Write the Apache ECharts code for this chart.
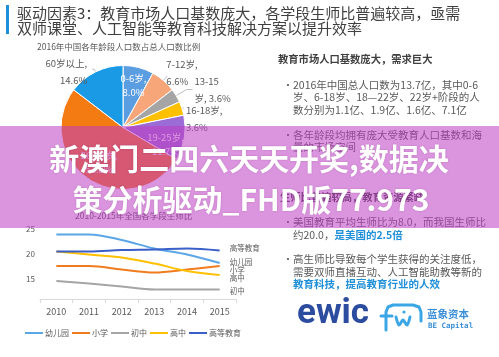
<!DOCTYPE html>
<html><head><meta charset="utf-8">
<script src="https://cdn.jsdelivr.net/npm/echarts@6/dist/echarts.min.js"></script>
<style>html,body{margin:0;padding:0;background:#fff}#c{width:499px;height:357px}</style>
</head><body><div id="c"></div>
<script>
// ---- data ----
const ageNames = ['0-6岁', '7-12岁', '13-15岁', '16-18岁', '19-25岁', '26-59岁', '60岁以上'];
const ageShares = [8.0, 6.6, 3.6, 3.6, 11.7, 51.8, 14.6];
const ageColors = ['#5a9de0', '#f7a67a', '#a5a5a5', '#ffc000', '#9b6bd6', '#f47a12', '#1a9ae4'];
const years = ['2010', '2011', '2012', '2013', '2014', '2015'];
const lineNames = ['幼儿园', '小学', '初中', '高中', '高等教育'];
const kindergarten = [23.9, 23.9, 22.8, 21.1, 19.9, 18.2];
const primary = [17.6, 17.6, 16.9, 16.3, 16.9, 17.6];
const junior = [14.6, 14.1, 13.5, 12.9, 12.9, 12.9];
const senior = [20.5, 19.9, 19.3, 18.1, 16.6, 15.8];
const higher = [20.5, 20.5, 20.8, 20.9, 21.1, 20.7];
const lineSeriesData = [kindergarten, primary, junior, senior, higher];
const lineColors = ['#5aa6e6', '#f07c1e', '#a5a5a5', '#ffc000', '#3a5fc8'];
const yTickLabels = [15, 20, 25];

const FF = '"Noto Sans CJK SC", "Noto Sans", sans-serif';
const chart = echarts.init(document.getElementById('c'));

const insideItems = { '0-6岁': 1, '19-25岁': 1, '26-59岁': 1 };
const lineLens = { '60岁以上': [3, 2], '7-12岁': [6, 0], '13-15岁': [12, 6], '16-18岁': [2, 0] };
const labelNudge = { '0-6岁': [2, -9], '19-25岁': [9, 11], '26-59岁': [-5, 7], '16-18岁': [0, 11],
  '60岁以上': [-3, 3], '7-12岁': [-3, -3] };

const pieData = ageNames.map((n, i) => {
  const d = { name: n, value: ageShares[i], itemStyle: { color: ageColors[i] } };
  if (insideItems[n]) {
    d.label = { position: 'inside', color: '#fff', lineHeight: 14 };
    d.labelLine = { show: false };
  } else {
    d.labelLine = { length: lineLens[n][0], length2: lineLens[n][1] };
  }
  return d;
});

function txt(text, x, y, size, opt) {
  opt = opt || {};
  return {
    type: 'text', z: opt.z || 10,
    style: Object.assign({
      text: text, x: x, y: y,
      font: (opt.bold ? 'bold ' : '') + size + 'px ' + (opt.ff || FF),
      fill: opt.fill || '#595959',
      textAlign: opt.align || 'left', textVerticalAlign: 'middle'
    }, opt.style || {})
  };
}
const richBlue = { b: { fill: '#1e8fd8', fontWeight: 'bold', fontSize: 10.5, fontFamily: FF } };
const logoStroke = { stroke: '#3aa6e6', lineWidth: 3, fill: null, lineCap: 'round', lineJoin: 'round' };

const graphics = [
  { type: 'rect', shape: { x: 6, y: 5, width: 3, height: 29 }, style: { fill: '#1e90d8' } },
  txt('驱动因素3：教育市场人口基数庞大，各学段生师比普遍较高，亟需', 17, 13, 15, { fill: '#404040' }),
  txt('双师课堂、人工智能等教育科技解决方案以提升效率', 17, 28, 15, { fill: '#404040' }),
  txt('2016年中国各年龄段人口数占总人口数比例', 37, 47, 8.5, { fill: '#595959' }),
  txt('教育市场人口基数庞大，需求巨大', 278, 59, 10.3, { bold: true, fill: '#404040' }),
  txt('•', 283, 85, 10),
  txt('2016年中国总人口数为13.7亿，其中0-6', 293, 85, 10.5),
  txt('岁、6-18岁、18—22岁、22岁+阶段的人', 293, 97.5, 10.5),
  txt('数分别为1.1亿、1.9亿、1.6亿、7.1亿', 293, 110, 10.5),
  txt('•', 283, 135, 10),
  txt('各年龄段均拥有庞大受教育人口基数和海', 293, 135, 10.5),
  txt('量的市场空间', 293, 147.5, 10.5),
  txt('生师比普遍较高，教育资源紧缺', 280, 197, 10.3, { bold: true, fill: '#404040' }),
  txt('•', 283, 222, 10),
  txt('美国教育平均生师比为8.0，而我国生师比', 293, 222, 10.5),
  txt('约20.0，{b|是美国的2.5倍}', 293, 235, 10.5, { style: { rich: richBlue } }),
  txt('•', 283, 259, 10),
  txt('高生师比导致每个学生获得的关注度低，', 293, 259, 10.5),
  txt('需要双师直播互动、人工智能助教等新的', 293, 272, 10.5),
  txt('{b|教育科技，提高教育行业的人效}', 293, 284.5, 10.5, { style: { rich: richBlue } }),
  txt('2010-2015年全国各学段生师比', 75, 216, 8.5),
  // logos
  txt('ewic', 297, 314, 35, { bold: true, fill: '#2b4c9f', ff: 'Roboto, sans-serif' }),
  { type: 'polyline', z: 10, shape: { points: [[386, 330], [386, 312], [388, 307], [393, 305], [413, 305], [419, 307], [421, 312], [421, 321]] }, style: logoStroke },
  { type: 'line', z: 10, shape: { x1: 381, y1: 316, x2: 392, y2: 316 }, style: logoStroke },
  { type: 'polyline', z: 10, shape: { points: [[396, 317], [399, 325], [403, 320], [407, 325], [410, 317]], smooth: 0.3 }, style: logoStroke },
  { type: 'circle', z: 10, shape: { cx: 404, cy: 312, r: 1.6 }, style: { fill: '#3aa6e6' } },
  txt('蓝象资本', 427, 314, 10.5, { bold: true, fill: '#3a8fd8' }),
  txt('BE Capital', 428, 326, 7.5, { bold: true, fill: '#3a8fd8', ff: '"DejaVu Sans Mono", monospace' }),
  // overlay band + watermark
  { type: 'rect', z: 100, shape: { x: 0, y: 126, width: 499, height: 102 }, style: { fill: 'rgba(190,60,195,0.55)' } },
  txt('新澳门二四六天天开奖,数据决', 249, 159, 30, { bold: true, fill: '#ffffff', align: 'center', z: 101,
    style: { textShadowColor: 'rgba(80,0,80,0.25)', textShadowBlur: 2 } }),
  txt('策分析驱动_FHD版77.973', 251, 200, 30, { bold: true, fill: '#ffffff', align: 'center', z: 101,
    style: { textShadowColor: 'rgba(80,0,80,0.25)', textShadowBlur: 2 } })
];

const lineSeries = lineNames.map((n, i) => ({
  name: n, type: 'line', data: lineSeriesData[i], smooth: 0.35, showSymbol: false,
  lineStyle: { width: 2, color: lineColors[i] }, itemStyle: { color: lineColors[i] },
  endLabel: { show: true, formatter: '{a}', fontSize: 7.5, color: '#595959', distance: 10,
    offset: [0, [-1, 4, 2, 3, -2][i]] },
  emphasis: { disabled: true }, z: 3
}));

chart.setOption({
  animation: false,
  textStyle: { fontFamily: FF },
  grid: { left: 40, top: 229, width: 196, height: 70 },
  legend: {
    data: lineNames, left: 25, top: 329, icon: 'rect', itemWidth: 18, itemHeight: 2, itemGap: 3,
    padding: 0, textStyle: { fontSize: 8, color: '#595959', padding: [0, 0, 0, -3] }
  },
  xAxis: {
    type: 'category', data: years, boundaryGap: true,
    axisLine: { lineStyle: { color: '#d9d9d9' } },
    axisTick: { show: true, length: 4, lineStyle: { color: '#d9d9d9' } },
    axisLabel: { fontSize: 9, color: '#595959', margin: 8 }
  },
  yAxis: {
    type: 'value', min: 11, max: 25,
    axisLine: { show: false }, axisTick: { show: false }, splitLine: { show: false },
    axisLabel: { fontSize: 8, color: '#595959', margin: 5, customValues: yTickLabels }
  },
  series: [{
    type: 'pie', center: [123, 127.5], radius: 62, startAngle: 90, clockwise: true,
    data: pieData, avoidLabelOverlap: false,
    itemStyle: { borderColor: '#fff', borderWidth: 1 },
    label: {
      show: true, fontSize: 9.5, color: '#595959', lineHeight: 17, distanceToLabelLine: 2,
      formatter: p => p.name === '13-15岁' ? '13-15\n岁, ' + p.value.toFixed(1) + '%'
        : p.name + ',\n' + p.value.toFixed(1) + '%'
    },
    labelLine: { lineStyle: { color: '#bfbfbf', width: 1 } },
    labelLayout: function (p) {
      const nd = labelNudge[ageNames[p.dataIndex]];
      return nd ? { dx: nd[0], dy: nd[1] } : {};
    },
    emphasis: { disabled: true }, z: 2
  }].concat(lineSeries),
  graphic: graphics
});
</script></body></html>
